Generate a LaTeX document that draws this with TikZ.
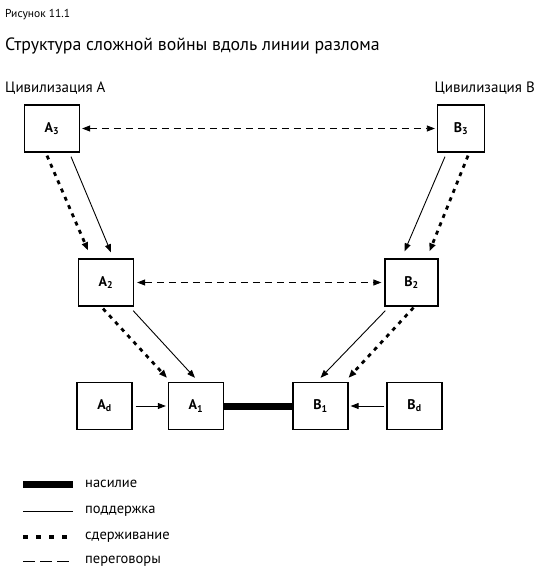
\documentclass[tikz,border=0pt]{standalone}
\usepackage{fontspec}
\setmainfont{PT Sans}
\usetikzlibrary{arrows.meta}

\begin{document}
\begin{tikzpicture}[x=1pt, y=-1pt,
		civ/.style={rectangle,draw,line width=1.3pt,minimum width=55pt,minimum height=47pt,inner sep=0pt,font=\bfseries\fontsize{14}{14}\selectfont},
		tip/.style={-{Triangle[length=8pt,width=6pt]}},
		support/.style={tip,line width=0.9pt},
		restrainline/.style={line width=2.8pt,dash pattern=on 4pt off 5pt},
		restrain/.style={restrainline,tip},
		talks/.style={{Triangle[length=8pt,width=6pt]}-{Triangle[length=8pt,width=6pt]},line width=0.8pt,dash pattern=on 7pt off 5pt},
		violence/.style={line width=7pt},
		legend/.style={anchor=west,inner sep=0pt,font=\fontsize{14.5}{14.5}\selectfont}]
		\useasboundingbox (0,0) rectangle (540,578);

		\node[anchor=west,inner sep=0pt,font=\fontsize{11.5}{11.5}\selectfont] (fig) at (5,15) {Рисунок 11.1};
		\node[anchor=west,inner sep=0pt,font=\fontsize{17.8}{17.8}\selectfont] (title) at (5,46) {Структура сложной войны вдоль линии разлома};
		\node[anchor=west,inner sep=0pt,font=\fontsize{15}{15}\selectfont] (civA) at (5,88) {Цивилизация А};
		\node[anchor=east,inner sep=0pt,font=\fontsize{15}{15}\selectfont] (civB) at (535,88) {Цивилизация В};

		\node[civ] (A3) at (52,128.5) {A\textsubscript{3}};
		\node[civ,minimum width=47pt] (B3) at (461,128.5) {B\textsubscript{3}};
		\node[civ] (A2) at (106,282.5) {A\textsubscript{2}};
		\node[civ,minimum width=53pt] (B2) at (411.5,282.5) {B\textsubscript{2}};
		\node[civ] (Ad) at (104.5,406) {A\textsubscript{d}};
		\node[civ] (A1) at (196,406) {A\textsubscript{1}};
		\node[civ] (B1) at (320.5,406) {B\textsubscript{1}};
		\node[civ] (Bd) at (414.5,406) {B\textsubscript{d}};

		\draw[talks] ([xshift=2pt]A3.east) -- ([xshift=-2pt]B3.west);
		\draw[talks] ([xshift=3pt]A2.east) -- ([xshift=-3pt]B2.west);

		\draw[restrain] ([xshift=-5pt,yshift=-3pt]A3.south) -- ([xshift=-18pt,yshift=8pt]A2.north);
		\draw[support] ([xshift=19pt,yshift=-4pt]A3.south) -- ([xshift=5pt,yshift=6pt]A2.north);
		\draw[support] ([xshift=-16pt,yshift=-4pt]B3.south) -- ([xshift=-7pt,yshift=7pt]B2.north);
		\draw[restrain] ([xshift=7pt,yshift=-3pt]B3.south) -- ([xshift=18pt,yshift=7pt]B2.north);

		\draw[restrain] ([xshift=-3pt,yshift=-2pt]A2.south) -- ([xshift=-29pt,yshift=4pt]A1.north);
		\draw[support] ([xshift=-1pt,yshift=-4pt]A2.south east) -- ([xshift=-1pt,yshift=4pt]A1.north);
		\draw[support] ([xshift=1pt,yshift=-4pt]B2.south west) -- ([yshift=4pt]B1.north);
		\draw[restrain] ([xshift=2pt,yshift=-1pt]B2.south) -- ([xshift=28pt,yshift=4pt]B1.north);

		\draw[support] ([xshift=3pt]Ad.east) -- ([xshift=-2pt]A1.west);
		\draw[support] ([xshift=-2pt]Bd.west) -- ([xshift=2pt]B1.east);
		\draw[violence] (A1.east) -- (B1.west);

		% legend
		\node[legend] (lviol) at (85,484) {насилие};
		\node[legend] (lsupp) at (85,511) {поддержка};
		\node[legend] (lrest) at (85,537) {сдерживание};
		\node[legend] (ltalk) at (85,561) {переговоры};
		\draw[violence] ([xshift=-62pt]lviol.west) -- ([xshift=-12pt]lviol.west);
		\draw[line width=0.9pt] ([xshift=-62pt]lsupp.west) -- ([xshift=-12pt]lsupp.west);
		\draw[restrainline,line width=3.5pt,dash pattern=on 5pt off 8pt] ([xshift=-62pt]lrest.west) -- ([xshift=-12pt]lrest.west);
		\draw[line width=0.9pt,dash pattern=on 12pt off 5pt] ([xshift=-62pt]ltalk.west) -- ([xshift=-12pt]ltalk.west);
\end{tikzpicture}
\end{document}
